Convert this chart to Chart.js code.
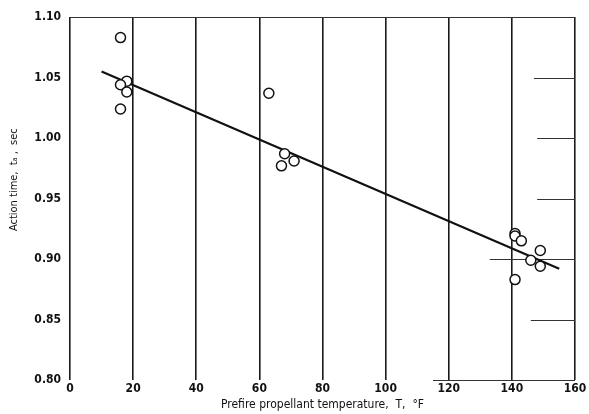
<!DOCTYPE html>
<html>
<head>
<meta charset="utf-8">
<script src="https://cdn.jsdelivr.net/npm/chart.js@4"></script>
<style>
  html, body { margin: 0; padding: 0; background: #fff; }
  #wrap { width: 589px; height: 414px; }
</style>
</head>
<body>
<div id="wrap"><canvas id="chart" width="589" height="414"></canvas></div>
<script>
// measured points: prefire temperature (°F) vs action time (sec)
const tempF = [16, 18, 16, 18, 16, 63, 68, 71, 67, 141, 141, 143, 149, 146, 149, 141];
const actionTime = [1.083, 1.047, 1.044, 1.038, 1.024, 1.037, 0.987, 0.981, 0.977, 0.921, 0.919, 0.915, 0.907, 0.899, 0.894, 0.883];

// faired line
const fitTemp = [10, 155];
const fitTime = [1.055, 0.892];

// axis ticks
const xTicks = [0, 20, 40, 60, 80, 100, 120, 140, 160];
const yTicks = [0.80, 0.85, 0.90, 0.95, 1.00, 1.05, 1.10];

// short horizontal rulings left over on the right side of the sheet
const ruleY = [1.05, 1.00, 0.95, 0.90, 0.85, 0.80];
const ruleFrom = [147, 148, 148, 133, 146, 115];

const FONT = '"DejaVu Sans Condensed", "Liberation Sans Narrow", sans-serif';

const partialRules = {
  id: "partialRules",
  beforeDatasetsDraw(chart) {
    const { ctx, scales: { x, y } } = chart;
    ctx.save();
    ctx.strokeStyle = "#333";
    ctx.lineWidth = 1.2;
    ruleY.forEach((v, i) => {
      const py = Math.round(y.getPixelForValue(v)) + 0.5;
      ctx.beginPath();
      ctx.moveTo(x.getPixelForValue(ruleFrom[i]), py);
      ctx.lineTo(x.getPixelForValue(160), py);
      ctx.stroke();
    });
    // top ruling
    const top = Math.round(y.getPixelForValue(1.10)) + 0.5;
    ctx.beginPath();
    ctx.moveTo(x.getPixelForValue(0), top);
    ctx.lineTo(x.getPixelForValue(160), top);
    ctx.stroke();
    ctx.restore();
  },
};

new Chart(document.getElementById("chart").getContext("2d"), {
  type: "scatter",
  data: {
    datasets: [
      {
        label: "Data",
        data: tempF.map((t, i) => ({ x: t, y: actionTime[i] })),
        pointStyle: "circle",
        pointRadius: 5,
        pointBorderWidth: 1.5,
        pointBorderColor: "#111",
        pointBackgroundColor: "#fff",
        showLine: false,
        order: 0,
      },
      {
        label: "Fit",
        type: "line",
        data: fitTemp.map((t, i) => ({ x: t, y: fitTime[i] })),
        borderColor: "#111",
        borderWidth: 2.2,
        pointRadius: 0,
        fill: false,
        order: 1,
      },
    ],
  },
  options: {
    responsive: false,
    animation: false,
    layout: { padding: { top: 17, right: 14, left: 0, bottom: 0 } },
    plugins: {
      legend: { display: false },
      tooltip: { enabled: false },
    },
    scales: {
      x: {
        type: "linear",
        min: 0,
        max: 160,
        afterBuildTicks: (s) => { s.ticks = xTicks.map((v) => ({ value: v })); },
        afterFit: (s) => { s.height = 34; },
        border: { display: false },
        grid: {
          color: "#1a1a1a",
          lineWidth: 1.6,
          drawTicks: false,
        },
        ticks: {
          color: "#111",
          padding: 2,
          font: { family: FONT, size: 12, weight: "bold" },
        },
        title: {
          display: true,
          text: "Prefire propellant temperature,  T,  °F",
          color: "#111",
          padding: { top: 0, bottom: 2 },
          font: { family: FONT, size: 12 },
        },
      },
      y: {
        type: "linear",
        min: 0.8,
        max: 1.1,
        afterBuildTicks: (s) => { s.ticks = yTicks.map((v) => ({ value: v })); },
        afterFit: (s) => { s.width = 70; },
        border: { display: false },
        grid: { display: false },
        ticks: {
          color: "#111",
          padding: 1,
          font: { family: FONT, size: 12, weight: "bold" },
          callback: (v) => Number(v).toFixed(2),
        },
        title: {
          display: true,
          // leading spaces lift the label above centre, as in the original sheet
          text: "            Action time,  tₐ ,  sec",
          color: "#111",
          padding: { top: 8, bottom: 0 },
          font: { family: FONT, size: 11 },
        },
      },
    },
  },
  plugins: [partialRules],
});
</script>
</body>
</html>
